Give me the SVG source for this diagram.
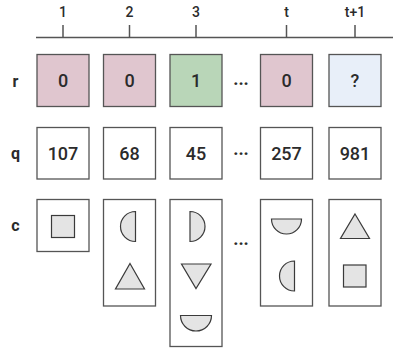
<svg xmlns="http://www.w3.org/2000/svg" width="393" height="349" viewBox="0 0 393 349">
<style>
text{font-family:Roboto,"Liberation Sans",sans-serif;fill:#2b2b2b;text-anchor:middle}
.t{font-size:14px;font-weight:500}
.v{font-size:18px;font-weight:500}
.lab{font-size:16px;font-weight:700}
.box{stroke:#555;stroke-width:1.3;fill:#fff}
.pink{fill:#e0c6cf}
.green{fill:#b9d6b8}
.blue{fill:#e8eff9}
.sh{fill:#e4e4e4;stroke:#3a3a3a;stroke-width:1.2}
.ax{stroke:#555;stroke-width:1.5;fill:none}
.dots{font-size:18px;font-weight:700}
</style>
<g id="axis">
<line class="ax" x1="36" y1="37.5" x2="393" y2="37.5"/>
<line class="ax" x1="63" y1="25" x2="63" y2="37.5"/>
<line class="ax" x1="129.5" y1="25" x2="129.5" y2="37.5"/>
<line class="ax" x1="196" y1="25" x2="196" y2="37.5"/>
<line class="ax" x1="286.5" y1="25" x2="286.5" y2="37.5"/>
<line class="ax" x1="355" y1="25" x2="355" y2="37.5"/>
<text class="t" x="63" y="16.7">1</text>
<text class="t" x="129.5" y="16.7">2</text>
<text class="t" x="196" y="16.7">3</text>
<text class="t" x="286.5" y="16.7">t</text>
<text class="t" x="355" y="16.7">t+1</text>
</g>
<g id="labels">
<text class="lab" x="15.5" y="87">r</text>
<text class="lab" x="15.5" y="159">q</text>
<text class="lab" x="15.5" y="231">c</text>
</g>
<g id="row-r">
<rect class="box pink" x="37" y="54.5" width="52" height="52"/>
<text class="v" x="63" y="87">0</text>
<rect class="box pink" x="103.5" y="54.5" width="52" height="52"/>
<text class="v" x="129.5" y="87">0</text>
<rect class="box green" x="170" y="54.5" width="52" height="52"/>
<text class="v" x="196" y="87">1</text>
<text class="dots" x="241" y="84.5">...</text>
<rect class="box pink" x="260.5" y="54.5" width="52" height="52"/>
<text class="v" x="286.5" y="87">0</text>
<rect class="box blue" x="329" y="54.5" width="52" height="52"/>
<text class="v" x="355" y="87">?</text>
</g>
<g id="row-q">
<rect class="box" x="37" y="127.5" width="52" height="51.5"/>
<text class="v" x="63" y="159.5">107</text>
<rect class="box" x="103.5" y="127.5" width="52" height="51.5"/>
<text class="v" x="129.5" y="159.5">68</text>
<rect class="box" x="170" y="127.5" width="52" height="51.5"/>
<text class="v" x="196" y="159.5">45</text>
<text class="dots" x="241" y="154.5">...</text>
<rect class="box" x="260.5" y="127.5" width="52" height="51.5"/>
<text class="v" x="286.5" y="159.5">257</text>
<rect class="box" x="329" y="127.5" width="52" height="51.5"/>
<text class="v" x="355" y="159.5">981</text>
</g>
<g id="row-c">
<g id="c1">
<rect class="box" x="37" y="199.5" width="52" height="52"/>
<rect class="sh" x="51.5" y="215.5" width="23" height="22"/>
</g>
<g id="c2">
<rect class="box" x="103.5" y="199.5" width="52" height="106.5"/>
<path class="sh" d="M135.5,211.5 A15,15 0 0 0 135.5,241.5 Z"/>
<path class="sh" d="M130,263.5 L144.5,289 L115.5,289 Z"/>
</g>
<g id="c3">
<rect class="box" x="170" y="199.5" width="52" height="147"/>
<path class="sh" d="M190,211.5 A15,15 0 0 1 190,241.5 Z"/>
<path class="sh" d="M181.5,264 L211,264 L196,288.5 Z"/>
<path class="sh" d="M180.5,315.5 A15.5,15.5 0 0 0 211.5,315.5 Z"/>
</g>
<text class="dots" x="241" y="245">...</text>
<g id="c4">
<rect class="box" x="260.5" y="199.5" width="52" height="106.5"/>
<path class="sh" d="M271.5,219 A15,15 0 0 0 301.5,219 Z"/>
<path class="sh" d="M294.5,261 A15,15 0 0 0 294.5,291 Z"/>
</g>
<g id="c5">
<rect class="box" x="329" y="199.5" width="52" height="106.5"/>
<path class="sh" d="M355,214 L369.5,238.5 L340.5,238.5 Z"/>
<rect class="sh" x="343.5" y="265" width="22.5" height="22"/>
</g>
</g>
</svg>
